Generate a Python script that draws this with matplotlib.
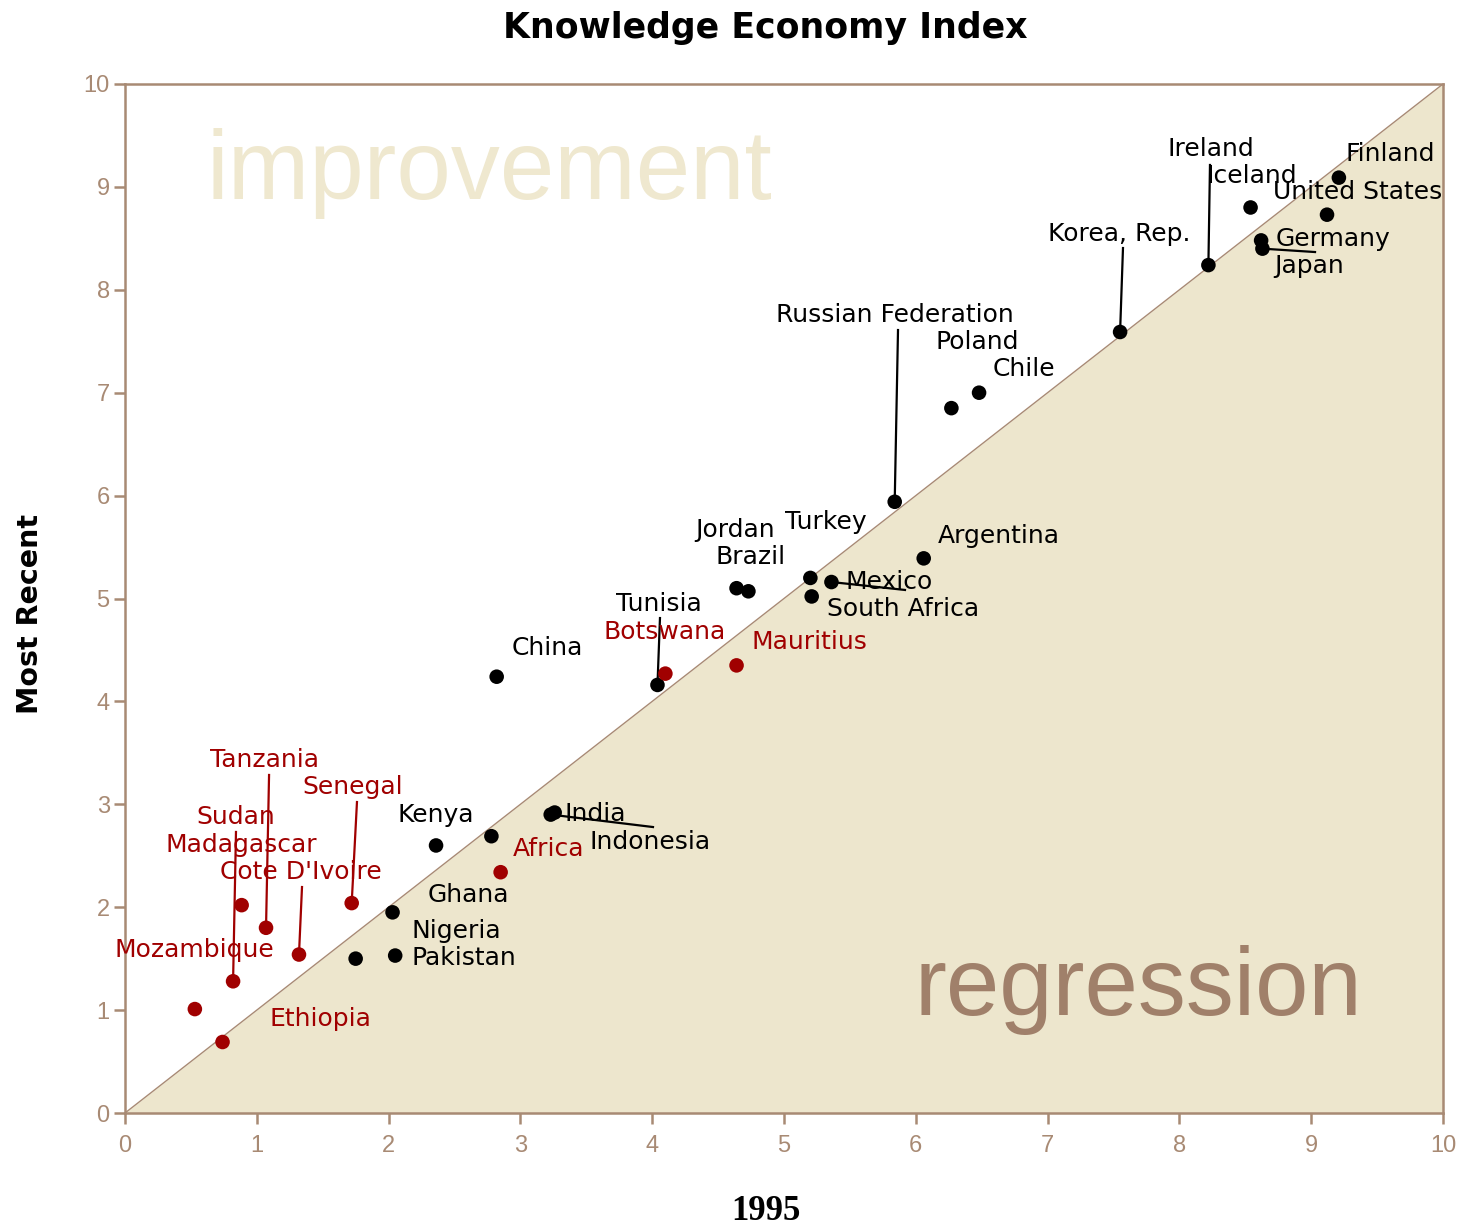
import matplotlib
matplotlib.use("Agg")
import matplotlib.pyplot as plt
import numpy as np

# ---------------- data ----------------
countries = ["Finland", "United States", "Iceland", "Ireland", "Germany", "Japan",
             "Korea, Rep.", "Chile", "Poland", "Russian Federation", "Argentina",
             "Turkey", "Mexico", "South Africa", "Jordan", "Brazil", "Tunisia",
             "Botswana", "Mauritius", "China", "India", "Indonesia", "Kenya", "",
             "Africa", "Ghana", "Pakistan", "Nigeria", "Senegal", "Madagascar",
             "Tanzania", "Cote D'Ivoire", "Sudan", "Mozambique", "Ethiopia"]
kei_1995 = [9.21, 9.12, 8.54, 8.22, 8.62, 8.63,
            7.55, 6.48, 6.27, 5.84, 6.06,
            5.20, 5.36, 5.21, 4.64, 4.73, 4.04,
            4.10, 4.64, 2.82, 3.26, 3.23, 2.36, 2.78,
            2.85, 2.03, 2.05, 1.75, 1.72, 0.885,
            1.07, 1.32, 0.82, 0.53, 0.74]
kei_recent = [9.09, 8.73, 8.80, 8.24, 8.48, 8.40,
              7.59, 7.00, 6.85, 5.94, 5.39,
              5.20, 5.16, 5.02, 5.10, 5.07, 4.16,
              4.27, 4.35, 4.24, 2.92, 2.90, 2.60, 2.69,
              2.34, 1.95, 1.53, 1.50, 2.04, 2.02,
              1.80, 1.54, 1.28, 1.01, 0.69]
is_africa = [False, False, False, False, False, False,
             False, False, False, False, False,
             False, False, False, False, False, False,
             True, True, False, False, False, False, False,
             True, False, False, False, True, True,
             True, True, True, True, True]
ticks = list(range(0, 11))

# ---------------- layout (label placement, not data) ----------------
label_pos = {
    "Ireland": (7.906, 9.368), "Iceland": (8.202, 9.106), "Finland": (9.264, 9.320),
    "United States": (8.710, 8.950), "Germany": (8.733, 8.494), "Japan": (8.718, 8.231),
    "Korea, Rep.": (7.003, 8.542), "Russian Federation": (4.939, 7.755),
    "Poland": (6.153, 7.493), "Chile": (6.586, 7.230), "Argentina": (6.168, 5.607),
    "Jordan": (4.325, 5.666), "Turkey": (5.008, 5.743), "Brazil": (4.484, 5.403),
    "Mexico": (5.470, 5.160), "South Africa": (5.326, 4.898), "Tunisia": (3.725, 4.947),
    "Botswana": (3.627, 4.675), "Mauritius": (4.750, 4.577), "China": (2.936, 4.519),
    "Tanzania": (0.645, 3.431), "Senegal": (1.343, 3.168), "Sudan": (0.539, 2.877),
    "Kenya": (2.071, 2.896), "India": (3.338, 2.906), "Madagascar": (0.311, 2.604),
    "Africa": (2.944, 2.566), "Indonesia": (3.528, 2.634), "Cote D'Ivoire": (0.721, 2.342),
    "Ghana": (2.299, 2.119), "Nigeria": (2.170, 1.769), "Mozambique": (-0.083, 1.584),
    "Pakistan": (2.170, 1.506), "Ethiopia": (1.093, 0.914),
}
leader_start = {
    "Ireland": (8.232, 9.213), "Korea, Rep.": (7.572, 8.406),
    "Russian Federation": (5.865, 7.609), "Tunisia": (4.059, 4.810),
    "Tanzania": (1.093, 3.285), "Senegal": (1.760, 3.022), "Sudan": (0.842, 2.731),
    "Cote D'Ivoire": (1.343, 2.196), "Indonesia": (4.006, 2.779),
    "Mexico": (5.918, 5.083), "Japan": (9.029, 8.367),
}

RED = "#a00000"
BROWN = "#a88a74"
BEIGE = "#ede6cd"

W, H = 1464, 1228
fig = plt.figure(figsize=(W / 100, H / 100), dpi=100)
ax = fig.add_axes([125 / W, 1 - 1113 / H, (1443 - 125) / W, (1113 - 84) / H])
ax.set_xlim(0, 10)
ax.set_ylim(0, 10)

# regression triangle and diagonal
ax.fill_between([0, 10], [0, 0], [0, 10], color=BEIGE, zorder=0, linewidth=0)
ax.plot([0, 10], [0, 10], color=BROWN, lw=1.0, zorder=1)

ax.text(0.62, 8.88, "improvement", fontsize=70.5, color="#efe8cf",
        family="Liberation Sans", va="baseline", ha="left", zorder=0.5)
ax.text(5.99, 0.95, "regression", fontsize=69, color="#a0806a",
        family="Liberation Sans", va="baseline", ha="left", zorder=0.5)

xs = np.array(kei_1995)
ys = np.array(kei_recent)
cols = [RED if a else "black" for a in is_africa]

for name, x0, y0, c in zip(countries, xs, ys, cols):
    if name in leader_start:
        sx, sy = leader_start[name]
        ax.plot([sx, x0], [sy, y0], color=c, lw=1.6, zorder=2, clip_on=False)

ax.scatter(xs, ys, s=110, c=cols, marker="o", zorder=3, linewidths=0)

for name, c in zip(countries, cols):
    if name and name in label_pos:
        lx, ly = label_pos[name]
        ax.text(lx, ly, name, color=c, fontsize=18, family="DejaVu Sans",
                ha="left", va="center", zorder=4, clip_on=False)

for sp in ax.spines.values():
    sp.set_color(BROWN)
    sp.set_linewidth(1.8)

ax.set_xticks(ticks)
ax.set_yticks(ticks)
ax.tick_params(axis="both", direction="out", length=8, width=1.8, color=BROWN,
               labelcolor=BROWN, labelsize=17, pad=3)
ax.tick_params(axis="x", pad=8)
for lab in ax.get_xticklabels() + ax.get_yticklabels():
    lab.set_family("Liberation Sans")

fig.text(765 / W, 1 - 28 / H, "Knowledge Economy Index", ha="center", va="center",
         fontsize=25, fontweight="bold", family="DejaVu Sans")
fig.text(30 / W, 1 - 614 / H, "Most Recent", ha="center", va="center",
         rotation=90, fontsize=20.5, fontweight="bold", family="DejaVu Sans")
fig.text(766 / W, 1 - 1212 / H, "1995", ha="center", va="center",
         fontsize=25, fontweight="bold", family="Liberation Serif")

fig.savefig("out.png", dpi=100, facecolor="white")
